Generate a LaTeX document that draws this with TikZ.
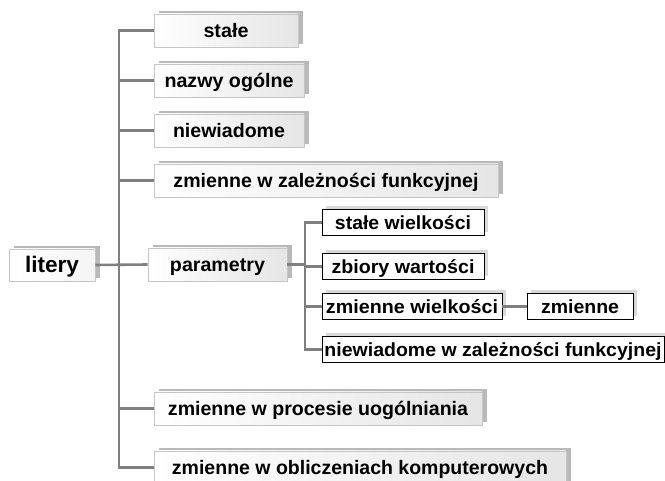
\documentclass[tikz,border=0pt]{standalone}
\usepackage{fontspec}
\usepackage{graphicx}
\setmainfont{Liberation Sans}
\usetikzlibrary{shadows}
\newcommand\sw[2]{\resizebox{#1pt}{\height}{#2}}
\tikzset{
  mainbox/.style={draw=gray!45, line width=0.7pt, left color=white, right color=gray!20,
    general shadow={fill=gray!55, shadow xshift=5pt, shadow yshift=3pt},
    inner sep=0pt, minimum height=33pt, text height=14pt, text depth=0pt,
    font=\fontsize{19.5}{21}\selectfont\bfseries},
  subbox/.style={draw=black, line width=0.7pt, fill=white,
    general shadow={fill=gray!30, shadow xshift=4pt, shadow yshift=3pt},
    inner sep=0pt, minimum height=26pt, text height=13.5pt, text depth=0pt,
    font=\fontsize{19}{21}\selectfont\bfseries},
  conn/.style={draw=black!50, line width=2.6pt},
  subconn/.style={draw=black!50, line width=2.2pt},
}
\begin{document}
\begin{tikzpicture}[x=1pt,y=-1pt]
\useasboundingbox (0,0) rectangle (665,481);
% main column
\node[mainbox, minimum width=144pt] (stale) at (226,30.5) {\sw{45}{stałe}};
\node[mainbox, minimum width=150pt] (nazwy) at (229,80.5) {\sw{129}{nazwy ogólne}};
\node[mainbox, minimum width=150pt] (niew) at (229,130.5) {\sw{112}{niewiadome}};
\node[mainbox, minimum width=344pt] (zal) at (326,180.5) {\sw{305}{zmienne w zależności funkcyjnej}};
\node[mainbox, minimum width=86pt, minimum height=32pt, text height=16pt, right color=gray!8,
  font=\fontsize{22.5}{24}\selectfont\bfseries] (litery) at (52,265) {\sw{54}{litery}};
\node[mainbox, minimum width=139pt] (param) at (217.5,264.5) {\sw{95}{parametry}};
\node[mainbox, minimum width=328pt] (proc) at (318,408.5) {\sw{300}{zmienne w procesie uogólniania}};
\node[mainbox, minimum width=412pt] (obl) at (360,467.5) {\sw{376}{zmienne w obliczeniach komputerowych}};
% sub column
\node[subbox, minimum width=162pt] (swiel) at (403,222.5) {\sw{136}{stałe wielkości}};
\node[subbox, minimum width=162pt] (zbior) at (403,266.5) {\sw{143}{zbiory wartości}};
\node[subbox, minimum width=180pt] (zwiel) at (412,306.5) {\sw{172}{zmienne wielkości}};
\node[subbox, minimum width=342pt] (nzal) at (493,349.5) {\sw{337}{niewiadome w zależności funkcyjnej}};
\node[subbox, minimum width=106pt] (zmienne) at (580,306.5) {\sw{78}{zmienne}};
% connectors
\coordinate (T) at (119,0);
\coordinate (S) at (305,0);
\draw[conn] (stale.west) -| (T |- obl.west) -- (obl.west);
\draw[conn] (nazwy.west) -- (nazwy.west -| T);
\draw[conn] (niew.west) -- (niew.west -| T);
\draw[conn] (zal.west) -- (zal.west -| T);
\draw[conn] (proc.west) -- (proc.west -| T);
\draw[conn] (litery.east) -- (param.west);
\draw[subconn] (param.east) -- (param.east -| S);
\draw[subconn] (swiel.west) -| (S |- nzal.west) -- (nzal.west);
\draw[subconn] (zbior.west) -- (zbior.west -| S);
\draw[subconn] (zwiel.west) -- (zwiel.west -| S);
\draw[subconn] (zwiel.east) -- (zmienne.west);
\end{tikzpicture}
\end{document}
